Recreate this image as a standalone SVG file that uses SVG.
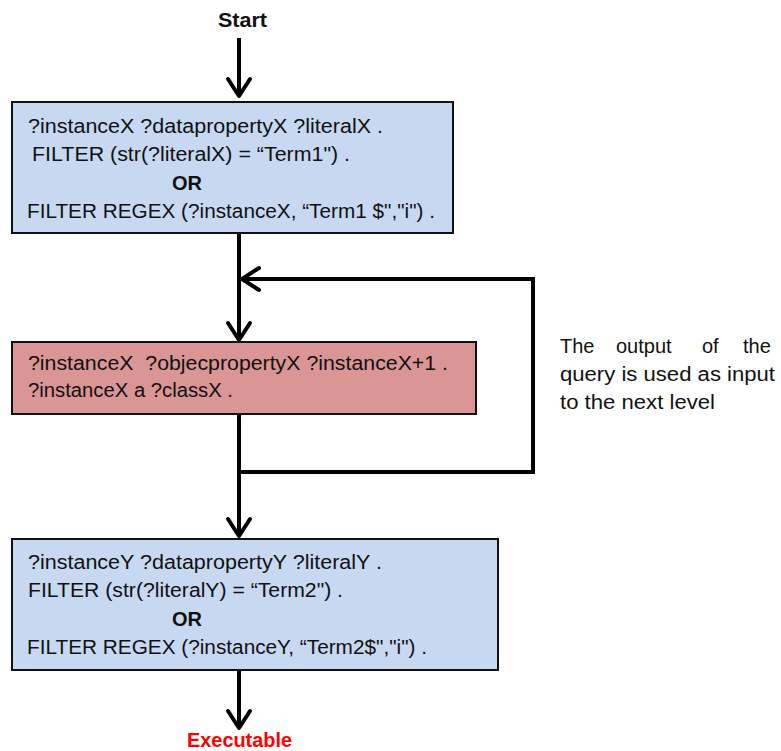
<svg xmlns="http://www.w3.org/2000/svg" width="781" height="751" viewBox="0 0 781 751">
<style>
.box{stroke:#111;stroke-width:2}
.blue{fill:#c6d9f1}
.red{fill:#d99694}
.t{font-family:"Liberation Sans",Arial,sans-serif;font-size:20px;fill:#111;white-space:pre}
.b{font-weight:bold}
.conn{stroke:#000;stroke-width:4;fill:none}
</style>
<defs>
<marker id="arr" markerUnits="userSpaceOnUse" markerWidth="24" markerHeight="28" viewBox="0 0 24 28" refX="20" refY="14" orient="auto">
<path d="M3,3 L20,14 L3,25" fill="none" stroke="#000" stroke-width="4" stroke-linejoin="round" stroke-linecap="round"/>
</marker>
</defs>
<rect width="781" height="751" fill="#fff"/>
<g id="connectors">
<line class="conn" x1="239" y1="38" x2="239" y2="96" marker-end="url(#arr)"/>
<line class="conn" x1="239" y1="233" x2="239" y2="340" marker-end="url(#arr)"/>
<path class="conn" d="M239,472 H533 V279 H242" marker-end="url(#arr)"/>
<line class="conn" x1="239" y1="414" x2="239" y2="536" marker-end="url(#arr)"/>
<line class="conn" x1="239" y1="670" x2="239" y2="728" marker-end="url(#arr)"/>
</g>
<g id="start">
<text class="t b" x="218" y="27" textLength="49" lengthAdjust="spacingAndGlyphs">Start</text>
</g>
<g id="box1">
<rect class="box blue" x="12" y="102" width="441" height="131"/>
<text class="t" x="28" y="133" textLength="355" lengthAdjust="spacingAndGlyphs">?instanceX ?datapropertyX ?literalX .</text>
<text class="t" x="32" y="161" textLength="318" lengthAdjust="spacingAndGlyphs">FILTER (str(?literalX) = “Term1") .</text>
<text class="t b" x="172" y="190" textLength="30" lengthAdjust="spacingAndGlyphs">OR</text>
<text class="t" x="27" y="218" textLength="408" lengthAdjust="spacingAndGlyphs">FILTER REGEX (?instanceX, “Term1 $","i") .</text>
</g>
<g id="box2">
<rect class="box red" x="12" y="342" width="464" height="72"/>
<text class="t" x="28" y="370" textLength="420" lengthAdjust="spacingAndGlyphs">?instanceX  ?objecpropertyX ?instanceX+1 .</text>
<text class="t" x="28" y="397" textLength="205" lengthAdjust="spacingAndGlyphs">?instanceX a ?classX .</text>
</g>
<g id="note">
<text class="t"><tspan x="560" y="353">The</tspan><tspan x="616" y="353">output</tspan><tspan x="702" y="353">of</tspan><tspan x="743" y="353">the</tspan></text>
<text class="t" x="560" y="381" textLength="215" lengthAdjust="spacingAndGlyphs">query is used as input</text>
<text class="t" x="560" y="409" textLength="155" lengthAdjust="spacingAndGlyphs">to the next level</text>
</g>
<g id="box3">
<rect class="box blue" x="12" y="539" width="486" height="131"/>
<text class="t" x="28" y="569" textLength="354" lengthAdjust="spacingAndGlyphs">?instanceY ?datapropertyY ?literalY .</text>
<text class="t" x="28" y="597" textLength="315" lengthAdjust="spacingAndGlyphs">FILTER (str(?literalY) = “Term2") .</text>
<text class="t b" x="172" y="626" textLength="30" lengthAdjust="spacingAndGlyphs">OR</text>
<text class="t" x="27" y="654" textLength="400" lengthAdjust="spacingAndGlyphs">FILTER REGEX (?instanceY, “Term2$","i") .</text>
</g>
<g id="executable">
<text class="t b" x="187" y="747" textLength="105" lengthAdjust="spacingAndGlyphs" style="fill:#f00">Executable</text>
</g>
</svg>
